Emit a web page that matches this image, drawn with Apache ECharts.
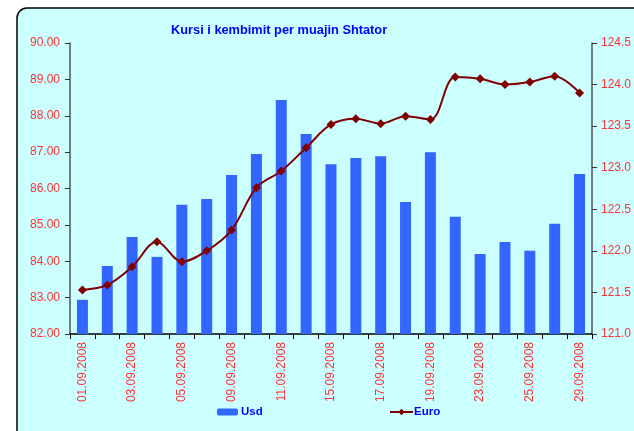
<!DOCTYPE html>
<html>
<head>
<meta charset="utf-8">
<script src="https://cdn.jsdelivr.net/npm/echarts@6/dist/echarts.min.js"></script>
<style>
html,body{margin:0;padding:0;background:#fff;}
#c{width:634px;height:431px;}
</style>
</head>
<body>
<div id="c"></div>
<script>
var categories = ['01.09.2008','02.09.2008','03.09.2008','04.09.2008','05.09.2008','08.09.2008','09.09.2008','10.09.2008','11.09.2008','12.09.2008','15.09.2008','16.09.2008','17.09.2008','18.09.2008','19.09.2008','22.09.2008','23.09.2008','24.09.2008','25.09.2008','26.09.2008','29.09.2008'];
var usd = [82.94,83.87,84.67,84.12,85.55,85.71,86.37,86.95,88.43,87.50,86.67,86.84,86.89,85.63,87.00,85.22,84.20,84.53,84.29,85.03,86.40];
var euro = [121.53,121.59,121.81,122.11,121.87,122.00,122.25,122.76,122.96,123.24,123.52,123.59,123.53,123.62,123.58,124.09,124.07,124.00,124.03,124.10,123.90];
var leftTicks = {min:82, max:90, interval:1};
var rightTicks = {min:121, max:124.5, interval:0.5};

var chart = echarts.init(document.getElementById('c'));
var red = '#FF3333';
chart.setOption({
  backgroundColor: '#ffffff',
  animation: false,
  graphic: [{
    type: 'rect', z: -10, silent: true,
    shape: {x: 17, y: 8, width: 700, height: 480, r: 10},
    style: {fill: '#CCFFFF', stroke: '#000000', lineWidth: 1.5}
  }],
  title: {
    text: 'Kursi i kembimit per muajin Shtator',
    left: 166, top: 19,
    textStyle: {color: '#0000FF', fontSize: 12.8, fontWeight: 'bold', fontFamily: 'Liberation Sans, Arial, sans-serif'}
  },
  legend: [{
    data: ['Usd'], left: 212, top: 401, itemWidth: 21, itemHeight: 7, itemGap: 3,
    textStyle: {color: '#0000FF', fontWeight: 'bold', fontSize: 11.5, fontFamily: 'Liberation Sans, Arial, sans-serif', padding: [0,0,0,-2]}
  },{
    data: ['Euro'], left: 384, top: 401, itemWidth: 23, itemHeight: 8, itemGap: 3,
    textStyle: {color: '#0000FF', fontWeight: 'bold', fontSize: 11.5, fontFamily: 'Liberation Sans, Arial, sans-serif', padding: [0,0,0,-4]}
  }],
  grid: {left: 70, right: 34, top: 43, bottom: 97, containLabel: false},
  xAxis: {
    type: 'category', data: categories,
    axisLine: {lineStyle: {color: '#000000', width: 1.5}},
    axisTick: {show: true, alignWithLabel: false, interval: 0, length: 5, lineStyle: {color: '#000'}},
    axisLabel: {interval: 1, rotate: 90, color: red, fontSize: 12, margin: 8, fontFamily: 'Liberation Sans Narrow, Arial Narrow, sans-serif'},
    splitLine: {show: false}
  },
  yAxis: [{
    type: 'value', min: leftTicks.min, max: leftTicks.max, interval: leftTicks.interval,
    axisLine: {show: true, lineStyle: {color: '#555555', width: 1.5}},
    axisTick: {show: true, length: 5, lineStyle: {color: '#333'}},
    axisLabel: {color: red, fontSize: 12, margin: 10, fontFamily: 'Liberation Sans, Arial, sans-serif', formatter: function(v){return v.toFixed(2);}},
    splitLine: {show: false}
  },{
    type: 'value', min: rightTicks.min, max: rightTicks.max, interval: rightTicks.interval, position: 'right',
    axisLine: {show: true, lineStyle: {color: '#555555', width: 1.5}},
    axisTick: {show: true, length: 5, lineStyle: {color: '#333'}},
    axisLabel: {color: red, fontSize: 12, margin: 9, fontFamily: 'Liberation Sans, Arial, sans-serif', formatter: function(v){return v.toFixed(1);}},
    splitLine: {show: false}
  }],
  series: [{
    name: 'Usd', type: 'bar', yAxisIndex: 0, data: usd, barWidth: 11,
    itemStyle: {color: '#3366FF'}
  },{
    name: 'Euro', type: 'line', yAxisIndex: 1, data: euro, smooth: 0.35,
    symbol: 'diamond', symbolSize: 9,
    lineStyle: {color: '#800000', width: 2},
    itemStyle: {color: '#800000'}
  }]
});
</script>
</body>
</html>
